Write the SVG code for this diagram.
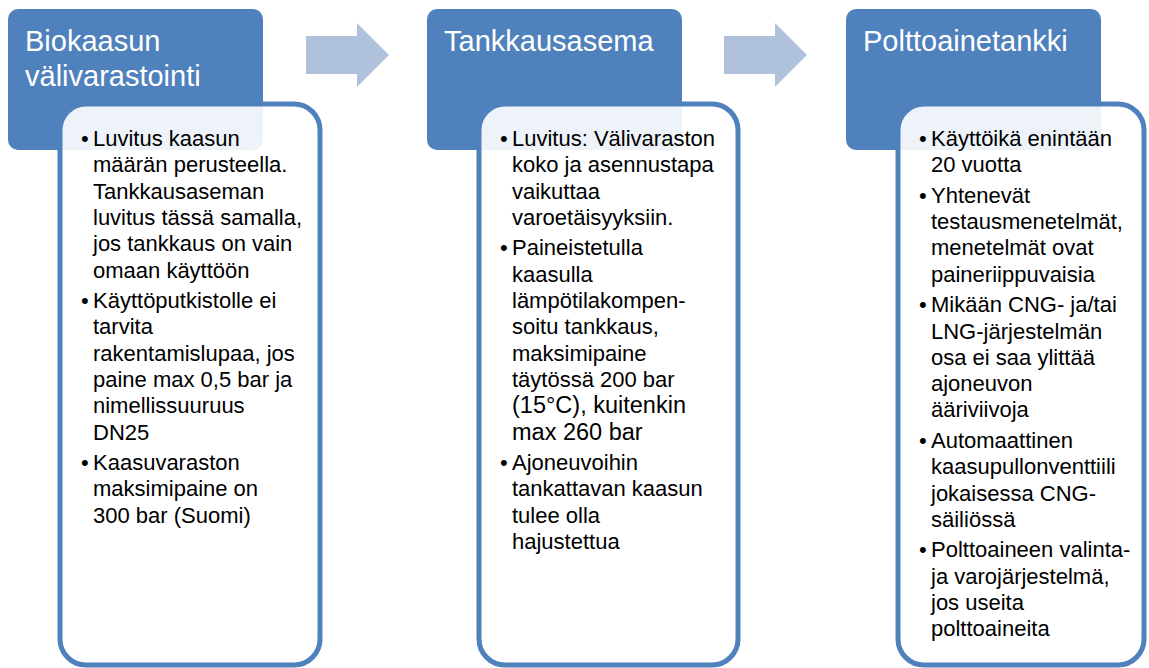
<svg xmlns="http://www.w3.org/2000/svg" width="1149" height="668" viewBox="0 0 1149 668">
<style>
.hdr{fill:#4F81BD}
.card{fill:#FFFFFF;fill-opacity:0.9;stroke:#4F81BD;stroke-width:5}
.arrow{fill:#B0C1DC}
.ht{font-family:"Liberation Sans",Arial,sans-serif;font-size:29px;fill:#FFFFFF}
.bt{font-family:"Liberation Sans",Arial,sans-serif;font-size:22px;fill:#000000}
.at{font-family:"Liberation Sans",Arial,sans-serif;font-size:23.5px;fill:#000000}
</style>
<g id="connectors">
<path class="arrow" d="M306,36 H357 V23 L389,55 L357,87 V74 H306 Z"/>
<path class="arrow" d="M724,36 H775 V23 L807,55 L775,87 V74 H724 Z"/>
</g>
<g id="node1">
<rect class="hdr" x="8" y="9" width="255" height="141" rx="10"/>
<text class="ht" x="25" y="51">Biokaasun</text>
<text class="ht" x="25" y="86">välivarastointi</text>
<rect class="card" x="60" y="104" width="260" height="561" rx="26"/>
<text class="bt" x="81" y="146">•</text>
<text class="bt" x="93" y="146">Luvitus kaasun</text>
<text class="bt" x="93" y="172.3">määrän perusteella.</text>
<text class="bt" x="93" y="198.6">Tankkausaseman</text>
<text class="bt" x="93" y="224.9">luvitus tässä samalla,</text>
<text class="bt" x="93" y="251.2">jos tankkaus on vain</text>
<text class="bt" x="93" y="277.5">omaan käyttöön</text>
<text class="bt" x="81" y="308">•</text>
<text class="bt" x="93" y="308">Käyttöputkistolle ei</text>
<text class="bt" x="93" y="334.3">tarvita</text>
<text class="bt" x="93" y="360.6">rakentamislupaa, jos</text>
<text class="bt" x="93" y="386.9">paine max 0,5 bar ja</text>
<text class="bt" x="93" y="413.2">nimellissuuruus</text>
<text class="bt" x="93" y="439.5">DN25</text>
<text class="bt" x="81" y="470">•</text>
<text class="bt" x="93" y="470">Kaasuvaraston</text>
<text class="bt" x="93" y="496.3">maksimipaine on</text>
<text class="bt" x="93" y="522.6">300 bar (Suomi)</text>
</g>
<g id="node2">
<rect class="hdr" x="427" y="9" width="255" height="141" rx="10"/>
<text class="ht" x="444" y="51">Tankkausasema</text>
<rect class="card" x="479" y="104" width="259" height="561" rx="26"/>
<text class="bt" x="500" y="146">•</text>
<text class="bt" x="512" y="146">Luvitus: Välivaraston</text>
<text class="bt" x="512" y="172.3">koko ja asennustapa</text>
<text class="bt" x="512" y="198.6">vaikuttaa</text>
<text class="bt" x="512" y="224.9">varoetäisyyksiin.</text>
<text class="bt" x="500" y="255.4">•</text>
<text class="bt" x="512" y="255.4">Paineistetulla</text>
<text class="bt" x="512" y="281.7">kaasulla</text>
<text class="bt" x="512" y="308">lämpötilakompen-</text>
<text class="bt" x="512" y="334.3">soitu tankkaus,</text>
<text class="bt" x="512" y="360.6">maksimipaine</text>
<text class="bt" x="512" y="386.9">täytössä 200 bar</text>
<text class="at" x="512" y="413.2">(15°C), kuitenkin</text>
<text class="at" x="512" y="439.5">max 260 bar</text>
<text class="bt" x="500" y="470">•</text>
<text class="bt" x="512" y="470">Ajoneuvoihin</text>
<text class="bt" x="512" y="496.3">tankattavan kaasun</text>
<text class="bt" x="512" y="522.6">tulee olla</text>
<text class="bt" x="512" y="548.9">hajustettua</text>
</g>
<g id="node3">
<rect class="hdr" x="846" y="9" width="255" height="141" rx="10"/>
<text class="ht" x="863" y="51">Polttoainetankki</text>
<rect class="card" x="898" y="104" width="246" height="561" rx="26"/>
<text class="bt" x="919" y="146">•</text>
<text class="bt" x="931" y="146">Käyttöikä enintään</text>
<text class="bt" x="931" y="172.3">20 vuotta</text>
<text class="bt" x="919" y="202.8">•</text>
<text class="bt" x="931" y="202.8">Yhtenevät</text>
<text class="bt" x="931" y="229.1">testausmenetelmät,</text>
<text class="bt" x="931" y="255.4">menetelmät ovat</text>
<text class="bt" x="931" y="281.7">paineriippuvaisia</text>
<text class="bt" x="919" y="312.2">•</text>
<text class="bt" x="931" y="312.2">Mikään CNG- ja/tai</text>
<text class="bt" x="931" y="338.5">LNG-järjestelmän</text>
<text class="bt" x="931" y="364.8">osa ei saa ylittää</text>
<text class="bt" x="931" y="391.1">ajoneuvon</text>
<text class="bt" x="931" y="417.4">ääriviivoja</text>
<text class="bt" x="919" y="447.9">•</text>
<text class="bt" x="931" y="447.9">Automaattinen</text>
<text class="bt" x="931" y="474.2">kaasupullonventtiili</text>
<text class="bt" x="931" y="500.5">jokaisessa CNG-</text>
<text class="bt" x="931" y="526.8">säiliössä</text>
<text class="bt" x="919" y="557.3">•</text>
<text class="bt" x="931" y="557.3">Polttoaineen valinta-</text>
<text class="bt" x="931" y="583.6">ja varojärjestelmä,</text>
<text class="bt" x="931" y="609.9">jos useita</text>
<text class="bt" x="931" y="636.2">polttoaineita</text>
</g>
</svg>
